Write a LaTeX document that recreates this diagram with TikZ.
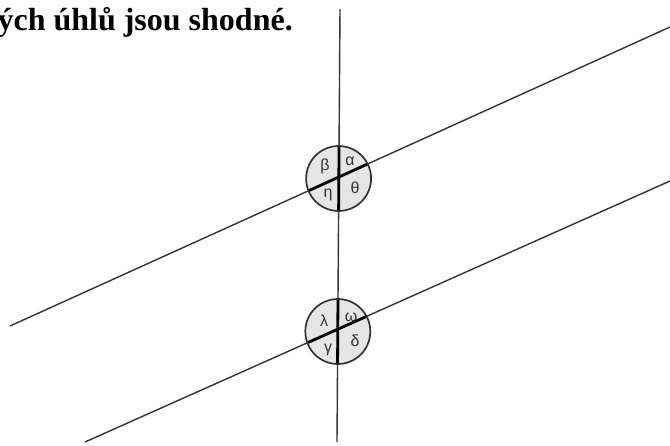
\documentclass[tikz,border=0pt]{standalone}
\usepackage{fontspec}
\setmainfont{Liberation Serif}
\newfontfamily\greekfont{Liberation Sans}
\begin{document}
\begin{tikzpicture}[x=1pt,y=-1pt,
  thinline/.style={line width=1.4pt, draw=black!80},
  thickline/.style={line width=2.8pt, draw=black},
  anglecirc/.style={circle, draw=black!80, line width=1.7pt, fill=black!10, minimum size=65pt, inner sep=0pt},
  glab/.style={font=\greekfont\fontsize{16}{16}\selectfont, text=black!80, inner sep=0pt}]
\useasboundingbox (0,0) rectangle (670,445);
% endpoints
\coordinate (vt) at (340,9);
\coordinate (vb) at (337,442);
\coordinate (ul) at (10,326);
\coordinate (ur) at (670,27);
\coordinate (ll) at (85,442);
\coordinate (lr) at (670,181);
\coordinate (cu) at (338.6,178.5);
\coordinate (cl) at (337.8,331.5);
% title
\node[anchor=base east, inner sep=0pt, font=\bfseries\fontsize{32}{32}\selectfont] (title) at (293,30) {ých úhlů jsou shodné.};
% long lines
\draw[thinline] (vt) -- (vb);
\draw[thinline] (ul) -- (ur);
\draw[thinline] (ll) -- (lr);
% circles
\node[anglecirc] (c1) at (cu) {};
\node[anglecirc] (c2) at (cl) {};
\begin{scope}
\clip (cu) circle (31.6pt);
\draw[thickline] (vt) -- (vb);
\draw[thickline] (ul) -- (ur);
\end{scope}
\begin{scope}
\clip (cl) circle (31.6pt);
\draw[thickline] (vt) -- (vb);
\draw[thickline] (ll) -- (lr);
\end{scope}
% labels
\node[glab] (beta) at (325,166) {β};
\node[glab] (alpha) at (350,161) {α};
\node[glab] (eta) at (328,195) {η};
\node[glab] (theta) at (355,188) {θ};
\node[glab] (lambda) at (324,321) {λ};
\node[glab] (omega) at (351,317) {ω};
\node[glab] (gamma) at (328,350) {γ};
\node[glab] (delta) at (355,341) {δ};
\end{tikzpicture}
\end{document}
